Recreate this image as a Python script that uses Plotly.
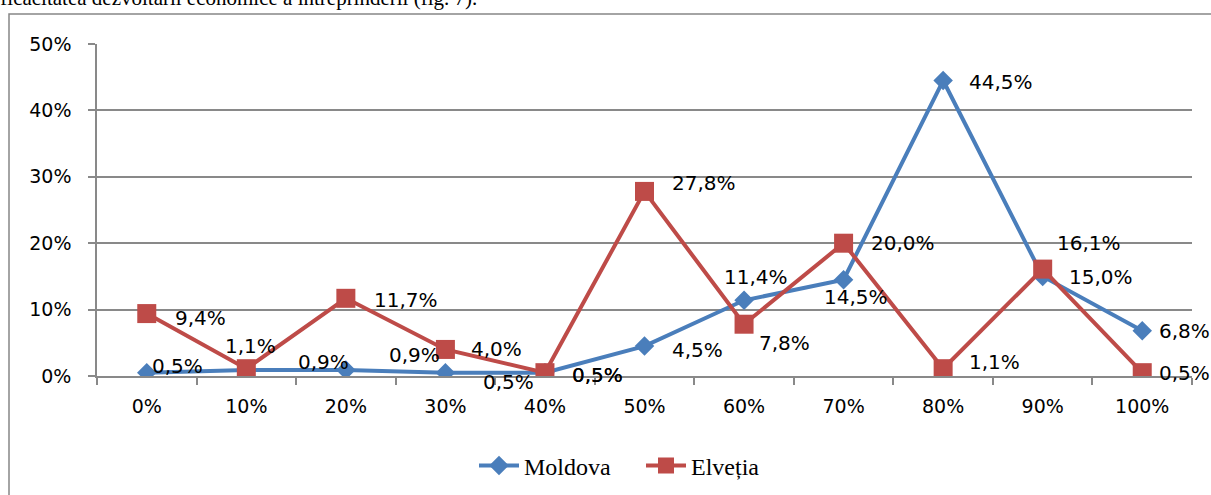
import plotly.graph_objects as go

categories = ["0%", "10%", "20%", "30%", "40%", "50%", "60%", "70%", "80%", "90%", "100%"]
moldova = [0.5, 0.9, 0.9, 0.5, 0.5, 4.5, 11.4, 14.5, 44.5, 15.0, 6.8]
elvetia = [9.4, 1.1, 11.7, 4.0, 0.5, 27.8, 7.8, 20.0, 1.1, 16.1, 0.5]
y_ticks = [0, 10, 20, 30, 40, 50]

# label offsets (pixels) relative to each point
mold_off = [(3, 7), (50, 8), (41, 15), (36, -9), (25, -2), (25, -4), (-22, 23), (-22, -17), (24, -1), (24, -1), (15, 0)]
elv_off = [(26, -4), (-23, 23), (26, -2), (24, 0), (25, -2), (25, 8), (13, -19), (25, 0), (24, 7), (12, 26), (15, 0)]

BLUE = "#4A7EBB"
RED = "#BE4B48"
GRID = "#898989"

def fmt(v):
    return f"{v:.1f}".replace(".", ",") + "%"

fig = go.Figure()
fig.add_trace(go.Scatter(x=categories, y=moldova, name="Moldova", mode="lines+markers",
                         line=dict(color=BLUE, width=4),
                         marker=dict(symbol="diamond", size=15, color=BLUE)))
fig.add_trace(go.Scatter(x=categories, y=elvetia, name="Elveția", mode="lines+markers",
                         line=dict(color=RED, width=4),
                         marker=dict(symbol="square", size=19, color=RED)))

annotations = []
for series, offs in ((moldova, mold_off), (elvetia, elv_off)):
    for c, v, (dx, dy) in zip(categories, series, offs):
        annotations.append(dict(x=c, y=v, xref="x", yref="y", text=fmt(v), showarrow=False,
                                xanchor="left", yanchor="middle", xshift=dx, yshift=dy,
                                font=dict(family="DejaVu Sans", size=20, color="#000000")))

annotations.append(dict(x=(-11 - 97) / 1095, y=(376 - 12) / 332, xref="paper", yref="paper",
                        text="eficacitatea dezvoltării economice a întreprinderii (fig. 7).",
                        showarrow=False, xanchor="left", yanchor="bottom",
                        font=dict(family="Liberation Serif", size=21, color="#000000")))

fig.update_layout(
    width=1211, height=495,
    margin=dict(l=97, r=19, t=44, b=119, autoexpand=False),
    paper_bgcolor="white", plot_bgcolor="white",
    showlegend=True,
    legend=dict(orientation="h", x=(474 - 97) / 1095, y=(376 - 466) / 332, xanchor="left", yanchor="middle",
                font=dict(family="Liberation Serif", size=24, color="#000000"),
                itemwidth=40, entrywidth=112, bgcolor="rgba(0,0,0,0)"),
    annotations=annotations,
    shapes=[dict(type="rect", xref="paper", yref="paper",
                 x0=(9 - 97) / 1095, x1=(1230 - 97) / 1095,
                 y0=(376 - 14) / 332, y1=(376 - 520) / 332,
                 line=dict(color="#868686", width=1.5), fillcolor="rgba(0,0,0,0)", layer="below")],
    xaxis=dict(type="category", range=[-0.5, 10.5], showgrid=False, showline=True,
               linecolor=GRID, linewidth=1.5, ticks="outside", ticklen=7, tickcolor=GRID,
               tickwidth=1.5, tickson="boundaries", ticklabelstandoff=12,
               tickfont=dict(family="DejaVu Sans", size=19, color="#000000")),
    yaxis=dict(range=[0, 50], tickvals=y_ticks, ticktext=[f"{t}%" for t in y_ticks],
               showgrid=True, gridcolor=GRID, gridwidth=1.5, zeroline=False,
               showline=True, linecolor=GRID, linewidth=1.5, ticks="outside", ticklen=7,
               tickcolor=GRID, tickwidth=1.5, ticklabelstandoff=13,
               tickfont=dict(family="DejaVu Sans", size=19, color="#000000")),
)

fig.write_html("out.html", config={"displayModeBar": False},
               post_script="document.body.style.margin='0';")
